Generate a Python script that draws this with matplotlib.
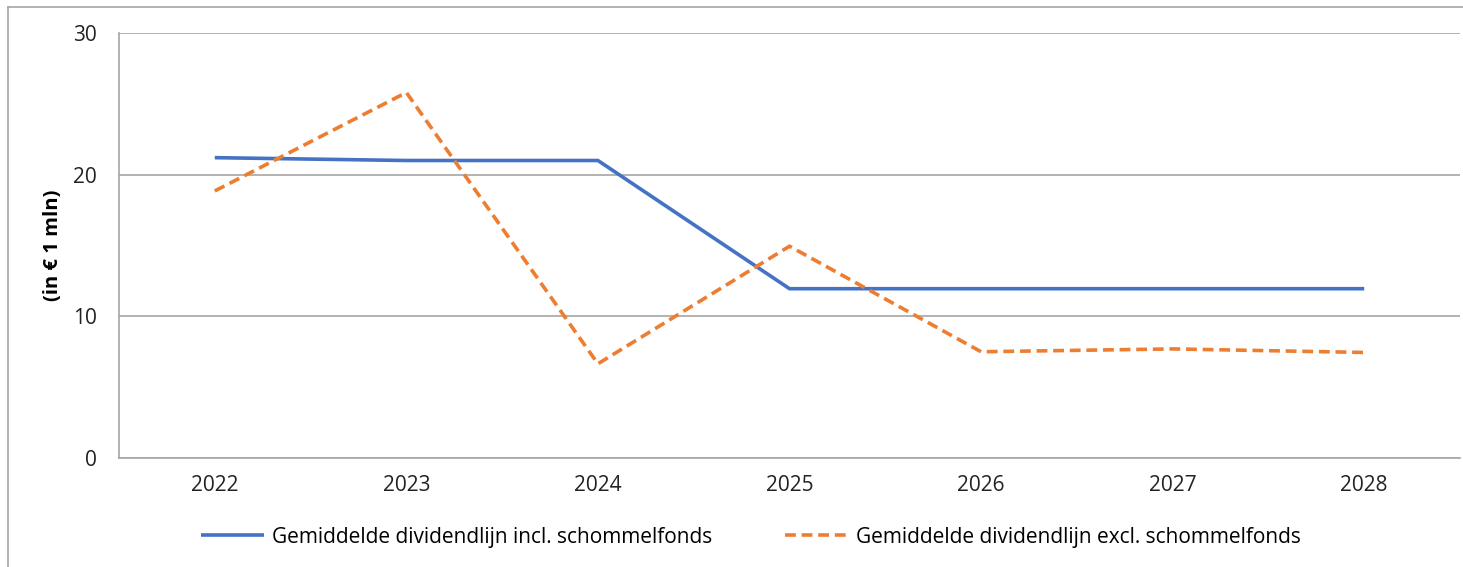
import matplotlib
matplotlib.use("Agg")
import matplotlib.pyplot as plt
from matplotlib.lines import Line2D

years = ["2022", "2023", "2024", "2025", "2026", "2027", "2028"]
incl = [21.2, 21.0, 21.0, 11.95, 11.95, 11.95, 11.95]
excl = [18.85, 25.8, 6.65, 14.95, 7.5, 7.7, 7.45]
label_incl = "Gemiddelde dividendlijn incl. schommelfonds"
label_excl = "Gemiddelde dividendlijn excl. schommelfonds"
ylabel = "(in € 1 mln)"
yticks = [0, 10, 20, 30]

plt.rcParams['font.family'] = ['Open Sans', 'DejaVu Sans']

fig = plt.figure(figsize=(14.63, 5.67), dpi=100)
ax = fig.add_axes([119/1463, 1-458/567, (1460-119)/1463, (458-33)/567])

x = list(range(len(years)))
ax.plot(x, incl, color="#4472C4", lw=2.6, label=label_incl, solid_capstyle="butt")
ax.plot(x, excl, color="#ED7D31", lw=2.6, ls=(0, (3, 1.6)), label=label_excl)

ax.set_xlim(-0.5, len(years) - 0.5)
ax.set_ylim(0, 30)
ax.set_yticks(yticks)
ax.set_xticks(x)
ax.set_xticklabels(years)
ax.tick_params(axis="both", length=0, labelsize=15, colors="#222222", pad=12)
ax.tick_params(axis="y", pad=16)
ax.grid(axis="y", color="#A6A6A6", lw=1.2)
ax.set_axisbelow(True)
for s in ["top", "right"]:
    ax.spines[s].set_visible(False)
ax.spines["left"].set_color("#A6A6A6")
ax.spines["bottom"].set_color("#A6A6A6")
ax.spines["left"].set_linewidth(1.2)
ax.spines["bottom"].set_linewidth(1.2)
ax.set_ylabel(ylabel, fontsize=14.5, fontweight="bold")
ax.yaxis.set_label_coords((63 - 119) / 1341, (458 - 245) / 425)

leg = fig.legend(loc="center", bbox_to_anchor=(751/1463, 1-537/567), ncol=2, frameon=False,
                 fontsize=15, handlelength=3.0, handletextpad=0.4, columnspacing=3.5)

# outer chart frame
fig.add_artist(Line2D([8/1463, 8/1463], [0, 1-7/567], transform=fig.transFigure, color="#A6A6A6", lw=1.2))
fig.add_artist(Line2D([8/1463, 1], [1-7/567, 1-7/567], transform=fig.transFigure, color="#A6A6A6", lw=1.2))

fig.savefig("out.png", dpi=100)
